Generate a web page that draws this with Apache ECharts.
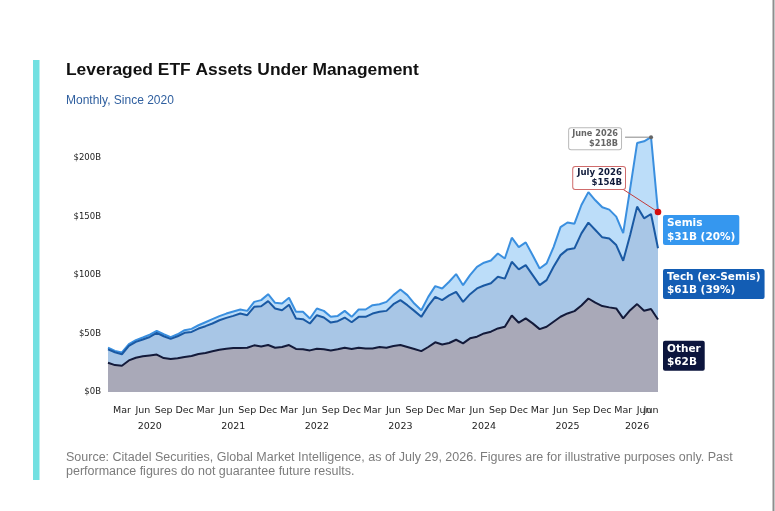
<!DOCTYPE html>
<html>
<head>
<meta charset="utf-8">
<title>Leveraged ETF Assets Under Management</title>
<script src="https://cdn.jsdelivr.net/npm/echarts@6/dist/echarts.min.js"></script>
<style>
  html, body { margin: 0; padding: 0; background: #fff; }
  #chart { width: 775px; height: 511px; }
</style>
</head>
<body>
<div id="chart"></div>
<script>
// month slots, Jan 2020 .. Aug 2026 (each value sits at its month end)
var monthNames = ['Jan', 'Feb', 'Mar', 'Apr', 'May', 'Jun', 'Jul', 'Aug', 'Sep', 'Oct', 'Nov', 'Dec'];
var categories = [];
for (var y = 2020; y <= 2026; y++) {
  for (var m = 1; m <= 12; m++) {
    if (y === 2026 && m > 8) break;
    categories.push(y + '-' + (m < 10 ? '0' + m : m));
  }
}
var extraTick = '2026-07';
var extraTickLabel = 'Jun';
var yearTicks = ['2020-07', '2021-07', '2022-07', '2023-07', '2024-07', '2025-07', '2026-05'];
var yTicks = [0, 50, 100, 150, 200];

// AUM in $B
var other = [25, 23, 22.5, 27, 29.3, 30.5, 31.3, 32, 29, 28.2,
  28.8, 30, 30.8, 32.5, 33.3, 34.8, 36.2, 37, 37.6, 37.6,
  37.9, 39.9, 39, 40.2, 37.9, 38.5, 40.2, 36.8, 36.5, 35.6,
  37, 36.5, 35.6, 36.5, 37.9, 36.8, 37.9, 37.3, 37.3, 38.5,
  37.9, 39.3, 40.2, 38.5, 36.8, 35, 38.5, 42.5, 40.7, 41.9,
  44.7, 41.6, 45.9, 47.3, 50.1, 51.6, 54.4, 55.8, 65.5, 59.3,
  63, 58.7, 53.8, 55.8, 60.1, 64.4, 67.2, 69.2, 74, 80,
  76.4, 73.5, 72.4, 71.5, 63, 70, 75.2, 69.5, 71, 62];
var tech = [11.5, 11, 9.8, 12.4, 13.6, 14.4, 15.8, 18.6, 18.7, 17.2,
  18.9, 20.6, 20.6, 21.8, 23, 23.8, 25.2, 26.4, 27.5, 29.5,
  27.8, 33, 34.4, 37.5, 33.5, 31.5, 34.4, 26.1, 25.8, 23,
  28.7, 27.2, 23.8, 24.1, 25.8, 22.9, 26.4, 27, 29.8, 30.1,
  31.5, 35.8, 38.4, 35.8, 32.6, 29.3, 35.2, 38.9, 37.9, 40.7,
  41, 35.5, 37.8, 41.3, 41, 41.4, 44.2, 41.2, 45.9, 45.6,
  45.6, 41.3, 37.6, 39.9, 47, 52.7, 54.8, 53.7, 61.7, 64.9,
  62.2, 58.8, 59, 54.2, 49.3, 64.3, 83.4, 79.1, 81.3, 61];
var semis = [1.5, 1.2, 1.5, 1.6, 1.4, 1.7, 2, 1.7, 1.7, 1.5,
  1.7, 2.3, 2.6, 2.8, 3.4, 3.7, 3.5, 3.7, 3.8, 3.5,
  3.7, 4.2, 5.2, 6, 4.9, 5.7, 6, 5.7, 6.3, 4.3,
  5.7, 5.7, 4.9, 4.5, 5.7, 4.6, 6.3, 6.3, 7.2, 6.5,
  7.7, 7.8, 9.1, 8.6, 6.3, 5.7, 7.7, 9.2, 10, 11.7,
  15.2, 14.3, 16.3, 18.5, 19.5, 19.5, 19.9, 17.2, 20.6, 19.1,
  19.4, 17, 14.3, 14.3, 16.9, 23.9, 23, 21.1, 24.3, 26.1,
  25.4, 25.7, 24.6, 24.3, 23.7, 39.7, 54.4, 65.9, 65.7, 31];

var endLabels = ['Semis\n$31B (20%)', 'Tech (ex-Semis)\n$61B (39%)', 'Other\n$62B'];
var peakNote = 'June 2026\n$218B';
var lastNote = 'July 2026\n$154B';

var chart = echarts.init(document.getElementById('chart'), null, { renderer: 'canvas' });

var axisFont = 'DejaVu Sans';
var labelBase = { margin: 14, fontSize: 9.5, fontFamily: axisFont, color: '#222' };
var bareAxis = {
  type: 'category',
  data: categories,
  boundaryGap: false,
  position: 'bottom',
  axisLine: { show: false },
  axisTick: { show: false },
  splitLine: { show: false }
};

var option = {
  animation: false,
  backgroundColor: '#fff',
  grid: { left: 108, right: 117, top: 129, bottom: 119, containLabel: false },
  xAxis: [
    Object.assign({}, bareAxis, {
      axisLabel: Object.assign({}, labelBase, {
        interval: function (i, v) { return +v.slice(5) % 3 === 0; },
        formatter: function (v) { return monthNames[+v.slice(5) - 1]; }
      })
    }),
    Object.assign({}, bareAxis, {
      offset: 16,
      axisLabel: Object.assign({}, labelBase, {
        interval: function (i, v) { return yearTicks.indexOf(v) >= 0; },
        formatter: function (v) { return v.slice(0, 4); }
      })
    }),
    Object.assign({}, bareAxis, {
      axisLabel: Object.assign({}, labelBase, {
        interval: function (i, v) { return v === extraTick; },
        formatter: function () { return extraTickLabel; }
      })
    })
  ],
  yAxis: {
    type: 'value',
    min: 0,
    max: 225,
    interval: 50,
    axisLine: { show: false },
    axisTick: { show: false },
    splitLine: { show: false },
    axisLabel: {
      margin: 7,
      fontSize: 8.5,
      fontFamily: axisFont,
      color: '#222',
      formatter: function (v) { return yTicks.indexOf(v) >= 0 ? '$' + v + 'B' : ''; }
    }
  },
  series: [{
    name: 'Other',
    type: 'line',
    stack: 'aum',
    data: other,
    symbol: 'none',
    z: 5,
    lineStyle: { width: 2, color: '#131a3a' },
    areaStyle: { color: '#a9a9b8', opacity: 1 }
  }, {
    name: 'Tech (ex-Semis)',
    type: 'line',
    stack: 'aum',
    data: tech,
    symbol: 'none',
    z: 4,
    lineStyle: { width: 2, color: '#1a59a3' },
    areaStyle: { color: '#a8c6e6', opacity: 1 }
  }, {
    name: 'Semis',
    type: 'line',
    stack: 'aum',
    data: semis,
    symbol: 'none',
    z: 3,
    lineStyle: { width: 2, color: '#3a8fdf' },
    areaStyle: { color: '#bcddf9', opacity: 1 }
  }]
};
chart.setOption(option);

// annotations placed from the chart's own scales
var last = categories.length - 1;
var totals = other.map(function (v, i) { return v + tech[i] + semis[i]; });
var peakIdx = totals.indexOf(Math.max.apply(null, totals));
var toPx = function (i, v) {
  return chart.convertToPixel({ xAxisIndex: 0, yAxisIndex: 0 }, [categories[i], v]);
};
var pPeak = toPx(peakIdx, totals[peakIdx]);
var pLast = toPx(last, totals[last]);

var techTop = other[last] + tech[last];
var bands = [
  { text: endLabels[0], mid: techTop + semis[last] / 2, bg: '#3597ef' },
  { text: endLabels[1], mid: other[last] + tech[last] / 2, bg: '#135db4' },
  { text: endLabels[2], mid: other[last] / 2, bg: '#0c153d' }
];

var graphics = [
  // accent bar and right page edge
  { type: 'rect', shape: { x: 33, y: 60, width: 6.5, height: 420 }, style: { fill: '#72e0e1' } },
  { type: 'rect', shape: { x: 772.5, y: 0, width: 2, height: 511 }, style: { fill: '#8e8e8e' } },
  { type: 'text', style: { text: 'Leveraged ETF Assets Under Management', x: 66, y: 70,
      textVerticalAlign: 'middle', fill: '#111', font: 'bold 17.4px "Liberation Sans", Arial, sans-serif' } },
  { type: 'text', style: { text: 'Monthly, Since 2020', x: 66, y: 101,
      textVerticalAlign: 'middle', fill: '#2f5f9f', font: '12px "Liberation Sans", Arial, sans-serif' } },
  { type: 'text', style: {
      text: 'Source: Citadel Securities, Global Market Intelligence, as of July 29, 2026. Figures are for illustrative purposes only. Past\nperformance figures do not guarantee future results.',
      x: 66, y: 450, lineHeight: 14.5, fill: '#7c7c7c', font: '12.5px "Liberation Sans", Arial, sans-serif' } }
];

bands.forEach(function (b) {
  var p = toPx(last, b.mid);
  graphics.push({
    type: 'text',
    z: 10,
    style: {
      text: b.text, x: p[0] + 5, y: p[1], textVerticalAlign: 'middle',
      fill: '#fff', font: 'bold 10.5px "DejaVu Sans", sans-serif', lineHeight: 13.5,
      backgroundColor: b.bg, padding: [2, 4, 1, 4], borderRadius: 2
    }
  });
});

// peak note
graphics.push(
  { type: 'line', z: 10, shape: { x1: pPeak[0] - 26, y1: pPeak[1], x2: pPeak[0], y2: pPeak[1] },
    style: { stroke: '#888', lineWidth: 1 } },
  { type: 'circle', z: 11, shape: { cx: pPeak[0], cy: pPeak[1], r: 2 }, style: { fill: '#666' } },
  { type: 'text', z: 11, style: {
      text: peakNote, x: pPeak[0] - 30, y: pPeak[1] + 1.5, textAlign: 'right', textVerticalAlign: 'middle',
      fill: '#666', font: 'bold 8.2px "DejaVu Sans", sans-serif', lineHeight: 10,
      backgroundColor: '#fff', borderColor: '#b9b9b9', borderWidth: 1, padding: [1, 3, 0, 3], borderRadius: 2 } }
);

// last value note
graphics.push(
  { type: 'line', z: 10, shape: { x1: pLast[0] - 37, y1: pLast[1] - 24, x2: pLast[0], y2: pLast[1] },
    style: { stroke: '#c23b3b', lineWidth: 1 } },
  { type: 'circle', z: 11, shape: { cx: pLast[0], cy: pLast[1], r: 3.3 }, style: { fill: '#d40d0d' } },
  { type: 'text', z: 11, style: {
      text: lastNote, x: pLast[0] - 33, y: pLast[1] - 34, textAlign: 'right', textVerticalAlign: 'middle',
      fill: '#0f1a3a', font: 'bold 8.6px "DejaVu Sans", sans-serif', lineHeight: 10.5,
      backgroundColor: '#fff', borderColor: '#cf6b6b', borderWidth: 1, padding: [1, 3, 0, 4], borderRadius: 2 } }
);

chart.setOption({ graphic: graphics });
</script>
</body>
</html>
